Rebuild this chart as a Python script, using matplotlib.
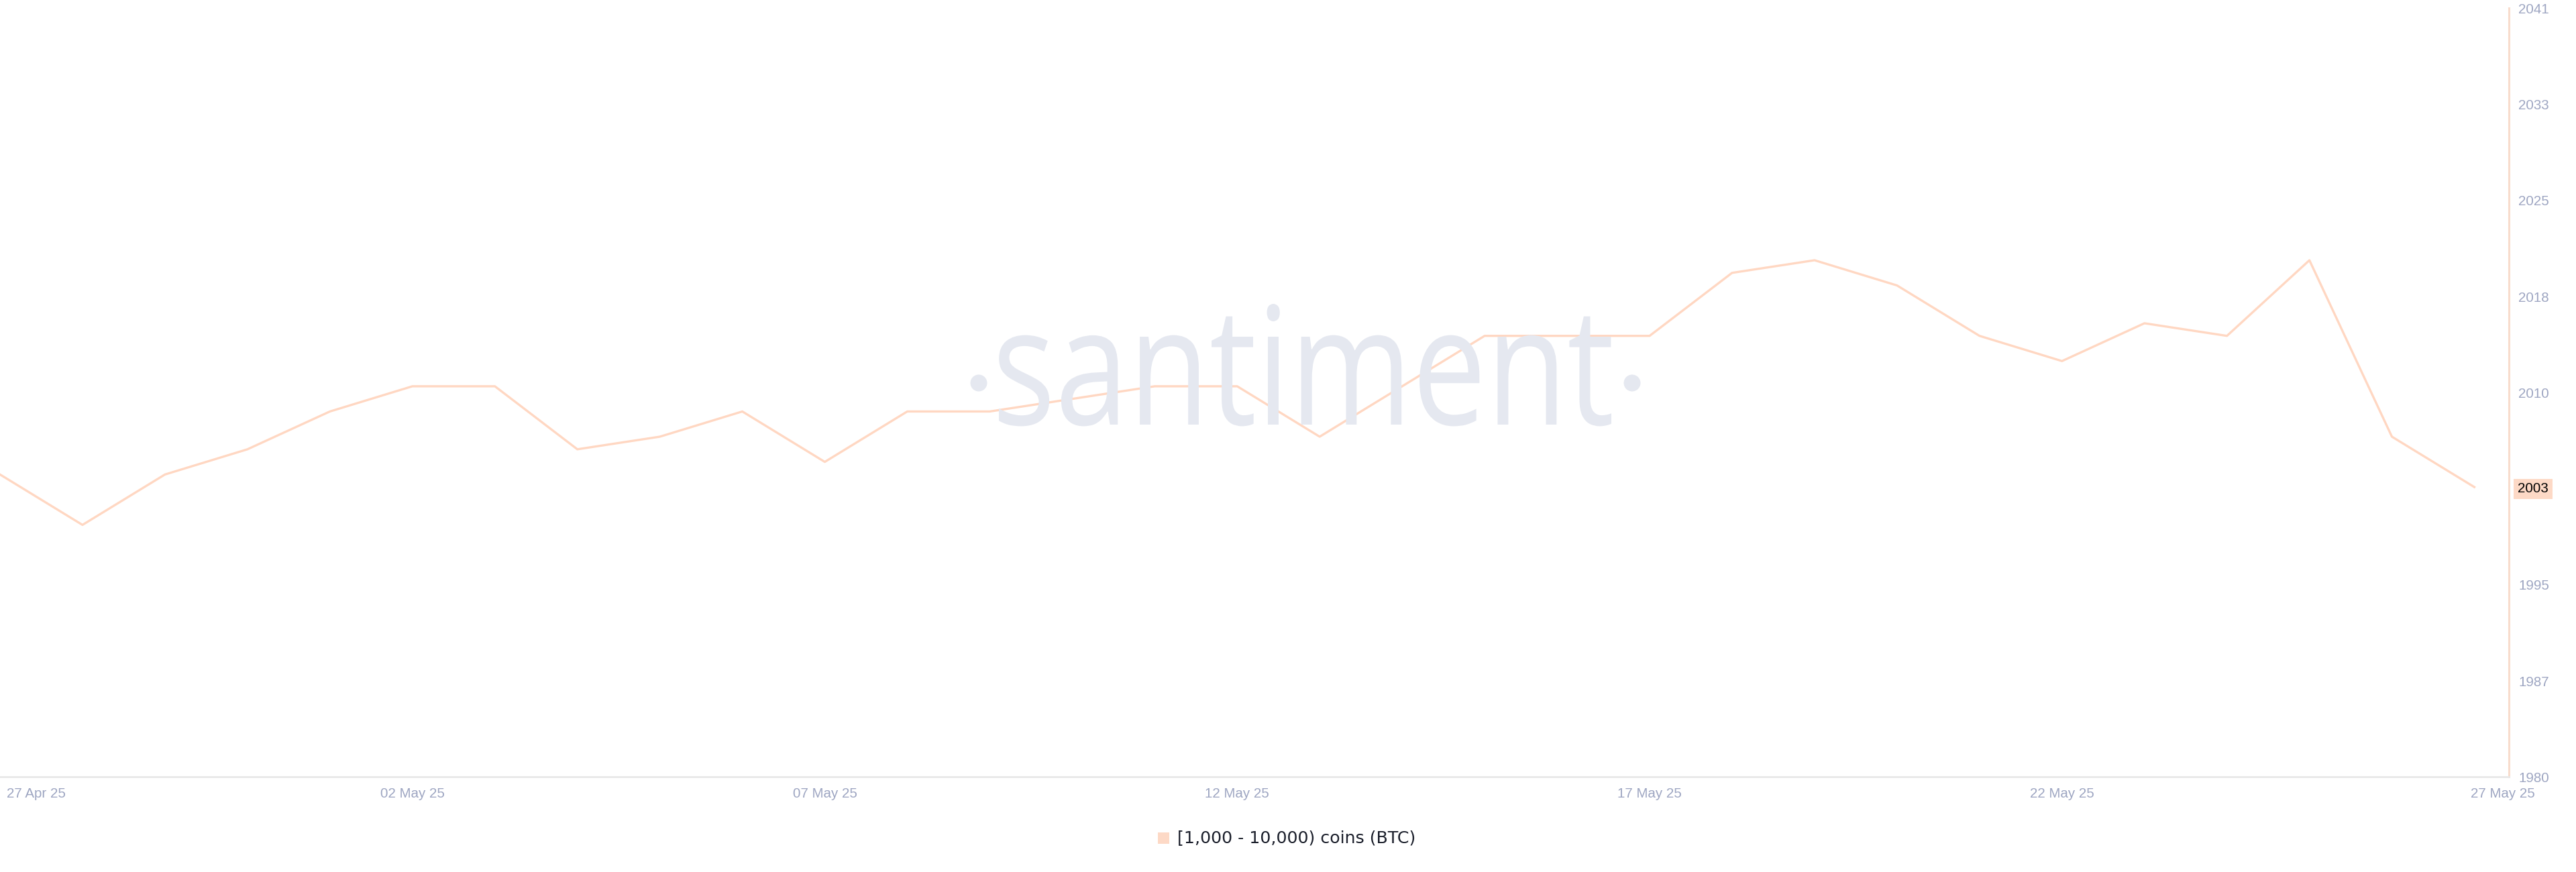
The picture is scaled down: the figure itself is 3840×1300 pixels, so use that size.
import matplotlib
matplotlib.use("Agg")
import matplotlib.pyplot as plt
import matplotlib.transforms as mtransforms
from matplotlib.patches import Rectangle, PathPatch, Circle
from matplotlib.textpath import TextPath
from matplotlib.font_manager import FontProperties
import numpy as np

# daily values, 27 Apr 25 .. 27 May 25
day_index = list(range(31))
holders = [2004, 2000, 2004, 2006, 2009, 2011, 2011, 2006, 2007, 2009, 2005,
           2009, 2009, 2010, 2011, 2011, 2007, 2011, 2015, 2015, 2015, 2020,
           2021, 2019, 2015, 2013, 2016, 2015, 2021, 2007, 2003]

xtick_pos = [0, 5, 10, 15, 20, 25, 30]
xtick_labels = ["27 Apr 25", "02 May 25", "07 May 25", "12 May 25",
                "17 May 25", "22 May 25", "27 May 25"]
ytick_labels = ["1980", "1987", "1995", "2002", "2010", "2018", "2025", "2033", "2041"]
series_name = "[1,000 - 10,000) coins (BTC)"

line_color = "#ffd7c2"
tick_color = "#9ea6c2"
mark_color = "#e5e8f0"

W, H = 3840, 1300
fig = plt.figure(figsize=(W / 100, H / 100), dpi=100)
ax = fig.add_axes([0.0, 0.109, 0.974, 0.8816])
ax.set_facecolor("none")

# watermark, squeezed into a condensed shape (pixel coords of the figure)
px = mtransforms.Affine2D().scale(1 / 100) + fig.dpi_scale_trans
fp = FontProperties(family=["Open Sans", "DejaVu Sans"], weight="normal")
tp = TextPath((0, 0), "santiment", size=1, prop=fp)
bb = tp.get_extents()
sx = 913 / bb.width
sy = 180 / bb.y1
wm_tr = mtransforms.Affine2D().scale(sx, sy).translate(1489 - bb.x0 * sx, H - 633)
fig.patches.append(PathPatch(tp, transform=wm_tr + px, facecolor=mark_color,
                             edgecolor="none", zorder=0))
for cx in (1459, 2433):
    fig.patches.append(Circle((cx, H - 571), 12.5, transform=px,
                              facecolor=mark_color, edgecolor="none", zorder=0))

ax.plot(day_index, holders, color=line_color, lw=2.4, zorder=3)

ax.set_xlim(0, 30.42)
ax.set_ylim(1980, 2041)

ax.set_xticks(xtick_pos)
ax.set_xticklabels(xtick_labels, family=["Liberation Sans", "DejaVu Sans"])
ax.set_yticks(np.linspace(1980, 2041, len(ytick_labels)))
ax.set_yticklabels(ytick_labels, family=["Liberation Sans", "DejaVu Sans"])
ax.yaxis.tick_right()
ax.tick_params(axis="x", length=0, pad=11, labelsize=14.8, labelcolor=tick_color)
ax.tick_params(axis="y", length=0, pad=10, labelsize=14.8, labelcolor=tick_color)
for lab in ax.get_yticklabels():
    lab.set_horizontalalignment("left")

xl = ax.get_xticklabels()
xl[0].set_horizontalalignment("left")
xl[0].set_transform(xl[0].get_transform() +
                    mtransforms.ScaledTranslation(0.1, 0, fig.dpi_scale_trans))
xl[-1].set_transform(xl[-1].get_transform() +
                     mtransforms.ScaledTranslation(0.42, 0, fig.dpi_scale_trans))

for s in ["top", "left"]:
    ax.spines[s].set_visible(False)
ax.spines["bottom"].set_color("#e8e8e8")
ax.spines["bottom"].set_linewidth(2)
ax.spines["right"].set_color("#f8dccd")
ax.spines["right"].set_linewidth(2.2)

# last value marker on the right axis
last = holders[-1]
ax.text(1.0035, last - 0.15, str(last), transform=ax.get_yaxis_transform(),
        ha="left", va="center", fontsize=14.8, color="black", zorder=10,
        family=["Liberation Sans", "DejaVu Sans"],
        bbox=dict(boxstyle="square,pad=0.28", fc="#fdd9c6", ec="none"),
        clip_on=False)

# legend
fig.patches.append(Rectangle((0.4495, 0.032), 0.0045, 0.0135, transform=fig.transFigure,
                             facecolor="#fdd9c6", edgecolor="none"))
fig.text(0.457, 0.039, series_name, fontsize=18.2, color="#1b1f2b",
         ha="left", va="center")

fig.savefig("out.png", dpi=100)
